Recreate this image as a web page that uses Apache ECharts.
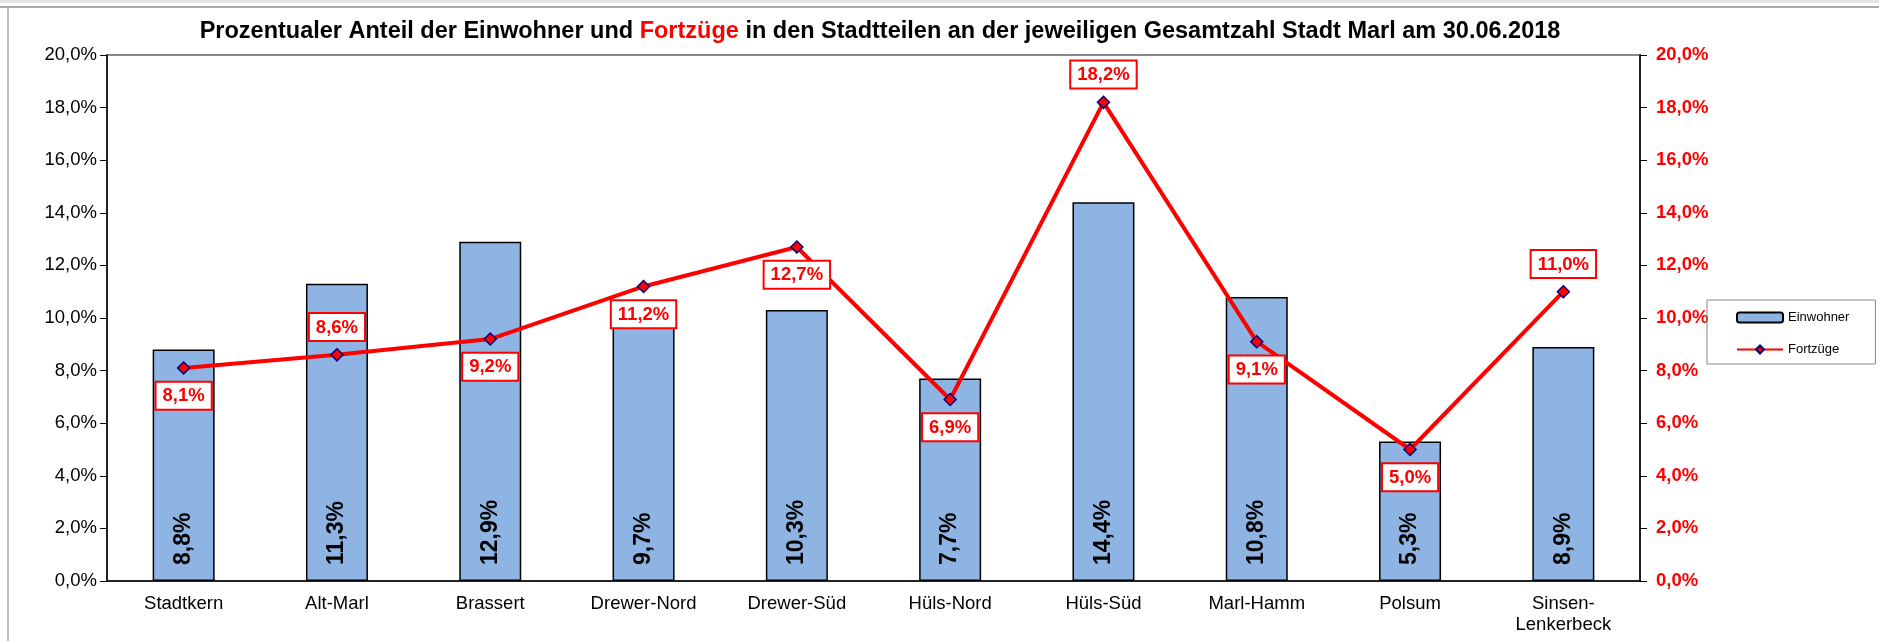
<!DOCTYPE html>
<html>
<head>
<meta charset="utf-8">
<script src="https://cdn.jsdelivr.net/npm/echarts@6/dist/echarts.min.js"></script>
<style>
  html, body { margin: 0; padding: 0; background: #fff; }
  #chart { width: 1879px; height: 641px; }
</style>
</head>
<body>
<div id="chart"></div>
<script>
// Stadtteile von Marl
const stadtteile = ["Stadtkern", "Alt-Marl", "Brassert", "Drewer-Nord", "Drewer-Süd",
  "Hüls-Nord", "Hüls-Süd", "Marl-Hamm", "Polsum", "Sinsen-\nLenkerbeck"];
// Anteil Einwohner in %
const einwohner = [8.8, 11.3, 12.9, 9.7, 10.3, 7.7, 14.4, 10.8, 5.3, 8.9];
// Anteil Fortzüge in %
const fortzuege = [8.1, 8.6, 9.2, 11.2, 12.7, 6.9, 18.2, 9.1, 5.0, 11.0];
// Achsenbereich
const achseMin = 0;
const achseMax = 20;
const achseSchritt = 2;

// Lage der Beschriftung je Punkt (oben/unten)
const labelSeiten = ["bottom", "top", "bottom", "bottom", "bottom",
  "bottom", "top", "bottom", "bottom", "top"];

const fmt = (v) => v.toFixed(1).replace(".", ",") + "%";
const FONT = "Liberation Sans, Arial, sans-serif";

const chart = echarts.init(document.getElementById("chart"));

const option = {
  backgroundColor: "#fff",
  animation: false,
  textStyle: { fontFamily: FONT },
  title: {
    text: "{a|Prozentualer Anteil der Einwohner und }{r|Fortzüge}{a| in den Stadtteilen an der jeweiligen Gesamtzahl Stadt Marl am 30.06.2018}",
    left: 875,
    textAlign: "center",
    top: 15,
    textStyle: {
      rich: {
        a: { fontFamily: FONT, fontSize: 23.5, fontWeight: "bold", color: "#000" },
        r: { fontFamily: FONT, fontSize: 23.5, fontWeight: "bold", color: "#ff0000" }
      }
    }
  },
  graphic: [
    { type: "rect", shape: { x: 0, y: 0, width: 1879, height: 3 }, style: { fill: "#e4e4e4" }, silent: true },
    { type: "line", shape: { x1: 0, y1: 7, x2: 1879, y2: 7 }, style: { stroke: "#aaa", lineWidth: 2 }, silent: true },
    { type: "line", shape: { x1: 8, y1: 7, x2: 8, y2: 641 }, style: { stroke: "#bbb", lineWidth: 2 }, silent: true }
  ],
  legend: {
    orient: "vertical",
    left: 1707,
    top: 300,
    padding: [11, 26, 8, 29],
    borderColor: "#888",
    borderWidth: 1,
    itemWidth: 46,
    itemHeight: 10,
    itemGap: 19,
    textStyle: { fontFamily: FONT, fontSize: 13, color: "#000" },
    data: ["Einwohner", "Fortzüge"]
  },
  grid: {
    left: 107,
    right: 239,
    top: 55,
    bottom: 60,
    show: true,
    borderColor: "#888",
    borderWidth: 2,
    backgroundColor: "#fff"
  },
  xAxis: {
    type: "category",
    data: stadtteile,
    axisLine: { lineStyle: { color: "#000", width: 1.5 } },
    axisTick: { length: 6, lineStyle: { color: "#000" } },
    axisLabel: {
      color: "#000",
      fontFamily: FONT,
      fontSize: 18.5,
      margin: 12,
      lineHeight: 21,
      interval: 0
    }
  },
  yAxis: [
    {
      type: "value",
      min: achseMin,
      max: achseMax,
      interval: achseSchritt,
      splitLine: { show: false },
      axisLine: { show: true, lineStyle: { color: "#000", width: 1.5 } },
      axisTick: { show: true, length: 7, lineStyle: { color: "#000" } },
      axisLabel: {
        color: "#000",
        fontFamily: FONT,
        fontSize: 18.5,
        margin: 10,
        formatter: (v) => fmt(v)
      }
    },
    {
      type: "value",
      min: achseMin,
      max: achseMax,
      interval: achseSchritt,
      position: "right",
      splitLine: { show: false },
      axisLine: { show: true, lineStyle: { color: "#000", width: 1.5 } },
      axisTick: { show: true, length: 7, lineStyle: { color: "#000" } },
      axisLabel: {
        color: "#ff0000",
        fontFamily: FONT,
        fontSize: 18.5,
        fontWeight: "bold",
        margin: 16,
        formatter: (v) => fmt(v)
      }
    }
  ],
  series: [
    {
      name: "Einwohner",
      type: "bar",
      data: einwohner,
      barWidth: 62,
      itemStyle: { color: "#8db4e2", borderColor: "#000", borderWidth: 1.5 },
      label: {
        show: true,
        position: "insideBottom",
        distance: 16,
        rotate: 90,
        align: "left",
        verticalAlign: "middle",
        color: "#000",
        fontFamily: FONT,
        fontSize: 23,
        fontWeight: "bold",
        formatter: (p) => fmt(p.value)
      },
      z: 2
    },
    {
      name: "Fortzüge",
      type: "line",
      yAxisIndex: 1,
      data: fortzuege.map((v, i) => ({ value: v, label: { position: labelSeiten[i] } })),
      symbol: "diamond",
      symbolSize: 12,
      lineStyle: { color: "#ff0000", width: 4 },
      itemStyle: { color: "#ff0000", borderColor: "#000080", borderWidth: 1.5 },
      label: {
        show: true,
        distance: 8,
        color: "#ff0000",
        fontFamily: FONT,
        fontSize: 18.5,
        fontWeight: "bold",
        backgroundColor: "#fff",
        borderColor: "#ff0000",
        borderWidth: 2,
        padding: [4, 6, 3, 6],
        formatter: (p) => fmt(p.value)
      },
      z: 5
    }
  ]
};

chart.setOption(option);
</script>
</body>
</html>
